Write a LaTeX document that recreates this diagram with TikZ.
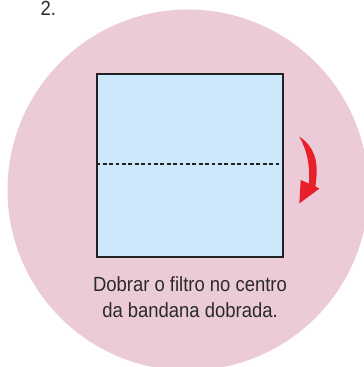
\documentclass[tikz,border=0pt]{standalone}
\usepackage{fontspec}
\setmainfont{Liberation Sans}[FakeStretch=0.9]
\definecolor{pinkbg}{HTML}{ECCBD9}
\definecolor{paper}{HTML}{CCE8FA}
\definecolor{edge}{HTML}{222222}
\definecolor{txt}{HTML}{2A2A2A}
\definecolor{arrowred}{HTML}{E8202A}
\tikzset{
  label text/.style={text=txt, font=\fontsize{20.5}{24}\selectfont, inner sep=0pt},
  paper box/.style={fill=paper, draw=edge, line width=1.7pt},
  fold line/.style={draw=edge, line width=1.6pt, dash pattern=on 3.8pt off 2.6pt},
}
\begin{document}
\begin{tikzpicture}[x=1pt,y=-1pt]
\useasboundingbox (0,0) rectangle (364,367);
\begin{scope}
\clip (0,0) rectangle (364,367);
\fill[pinkbg] (188,190) circle (180.5);
\end{scope}
\node[label text, anchor=base west] (num) at (40.5,15.7) {2.};
\node[paper box, minimum width=186pt, minimum height=183pt, inner sep=0pt, anchor=north west] (sq) at (96.3,72.8) {};
\draw[fold line] (sq.west |- 0,163.7) -- (sq.east |- 0,163.7);
\fill[arrowred] (299.3,136.7) .. controls (313,145) and (318,160) .. (316.5,176)
  -- (315.5,186.5) -- (319.5,188.5) -- (299.3,203.5) -- (300.7,180) -- (309,183.5)
  .. controls (310,165) and (307,150) .. cycle;
\node[label text, anchor=base] (l1) at (190,291.7) {Dobrar o filtro no centro};
\node[label text, anchor=base] (l2) at (190,317.3) {da bandana dobrada.};
\end{tikzpicture}
\end{document}
